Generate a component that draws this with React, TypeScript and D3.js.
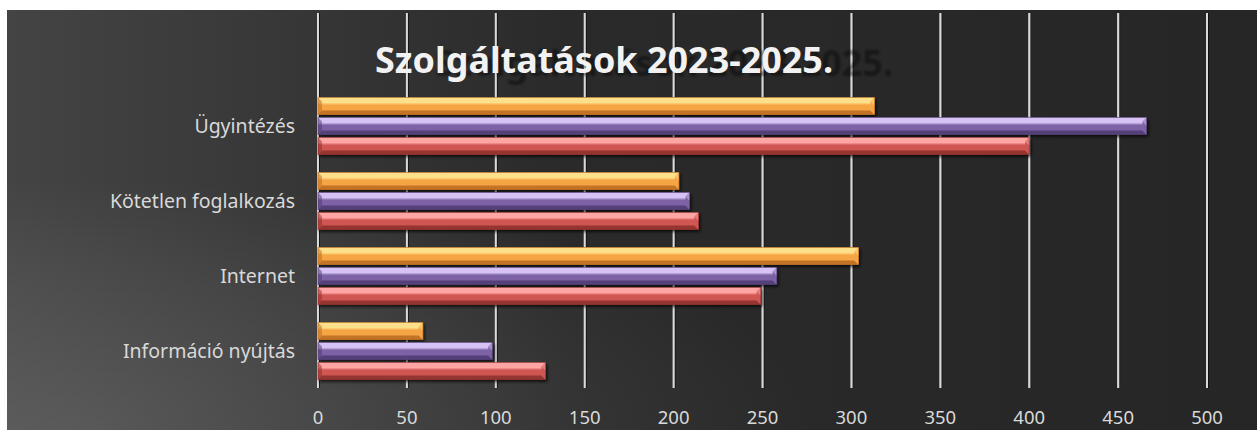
import React from "react";
import * as d3 from "d3";

const categories = ["Információ nyújtás", "Internet", "Kötetlen foglalkozás", "Ügyintézés"];
const seriesNames = ["2025", "2024", "2023"]; // top to bottom within a group
const values2023 = [128, 249, 214, 400];
const values2024 = [98, 258, 209, 466];
const values2025 = [59, 304, 203, 313];
const xTicks = [0, 50, 100, 150, 200, 250, 300, 350, 400, 450, 500];
const title = "Szolgáltatások 2023-2025.";

const W = 1257;
const H = 430;

// colours per series: [light, main, dark]
const palette: Record<string, string[]> = {
  "2025": ["#ffe08a", "#f6a544", "#b86a22"],
  "2024": ["#d7c2f5", "#7d63a6", "#4e3a72"],
  "2023": ["#ffa5a3", "#cf5653", "#8a2e2c"],
};

const valuesBySeries: Record<string, number[]> = {
  "2023": values2023,
  "2024": values2024,
  "2025": values2025,
};

const Bar = ({ x0, x1, y0, h, name }: { x0: number; x1: number; y0: number; h: number; name: string }) => {
  const [light, main, dark] = palette[name];
  const b = 4;
  const y1 = y0 + h;
  const pts = (a: number[][]) => a.map((p) => p.join(",")).join(" ");
  return (
    <g filter="url(#barShadow)">
      <rect x={x0} y={y0} width={x1 - x0} height={h} fill={`url(#g${name})`} />
      <polygon points={pts([[x0, y0], [x1, y0], [x1 - b, y0 + b], [x0 + b, y0 + b]])} fill={light} opacity={0.9} />
      <polygon points={pts([[x0, y1], [x1, y1], [x1 - b, y1 - b], [x0 + b, y1 - b]])} fill={dark} opacity={0.85} />
      <polygon points={pts([[x1, y0], [x1, y1], [x1 - b, y1 - b], [x1 - b, y0 + b]])} fill={main} />
      <polygon points={pts([[x1, y0], [x1, y0 + h / 2], [x1 - b, y0 + b]])} fill={light} opacity={0.5} />
      <polygon points={pts([[x0, y0], [x0, y1], [x0 + b, y1 - b], [x0 + b, y0 + b]])} fill={dark} opacity={0.5} />
      <rect x={x0} y={y0} width={x1 - x0} height={h} fill="none" stroke={dark} strokeWidth={0.8} opacity={0.7} />
    </g>
  );
};

export default function App() {
  const x = d3.scaleLinear().domain([0, 500]).range([318, 1207]);
  const y = d3.scaleBand<string>().domain(categories).range([388, 88]);
  const ySub = d3.scaleBand<string>().domain(seriesNames).range([9.5, 66.5]).paddingInner(0.15);
  const gridTop = 13;
  const gridBottom = 388;

  return (
    <svg
      width={W}
      height={H}
      style={{ position: "absolute", left: 0, top: 0, fontFamily: "'Noto Sans', 'Open Sans', sans-serif" }}
    >
      <defs>
        <linearGradient id="bgLin" x1="0" x2="1" y1="0" y2="0">
          <stop offset="0" stopColor="#444444" />
          <stop offset="0.45" stopColor="#2a2a2a" />
          <stop offset="1" stopColor="#262626" />
        </linearGradient>
        <radialGradient id="bgRad" cx="0.05" cy="1" r="0.6">
          <stop offset="0" stopColor="#ffffff" stopOpacity={0.13} />
          <stop offset="0.6" stopColor="#ffffff" stopOpacity={0.06} />
          <stop offset="1" stopColor="#ffffff" stopOpacity={0} />
        </radialGradient>
        {seriesNames.map((n) => (
          <linearGradient key={n} id={`g${n}`} x1="0" x2="0" y1="0" y2="1">
            <stop offset="0" stopColor={palette[n][0]} />
            <stop offset="0.3" stopColor={palette[n][0]} />
            <stop offset="0.45" stopColor={palette[n][1]} />
            <stop offset="1" stopColor={palette[n][1]} />
          </linearGradient>
        ))}
        <filter id="barShadow" x="-5%" y="-50%" width="110%" height="200%">
          <feDropShadow dx="1.5" dy="2" stdDeviation="1.8" floodColor="#000" floodOpacity="0.7" />
        </filter>
        <filter id="titleBlur" x="-10%" y="-50%" width="120%" height="200%">
          <feGaussianBlur stdDeviation="1.2" />
        </filter>
        <filter id="gridShade">
          <feDropShadow dx="1" dy="0" stdDeviation="0.5" floodColor="#000" floodOpacity="0.6" />
        </filter>
      </defs>

      <rect x={7} y={10} width={W - 7} height={H - 10} fill="url(#bgLin)" />
      <rect x={7} y={10} width={W - 7} height={H - 10} fill="url(#bgRad)" />

      {/* grid lines */}
      <g filter="url(#gridShade)">
        {xTicks.map((t) => (
          <line key={t} x1={x(t)} x2={x(t)} y1={gridTop} y2={gridBottom} stroke="#d9d9d9" strokeWidth={2} />
        ))}
      </g>

      {/* title shadow + title */}
      <text
        x={435}
        y={76}
        fontSize={35}
        fontWeight="bold"
        fill="#000"
        opacity={0.4}
        textLength={458}
        lengthAdjust="spacingAndGlyphs"
        filter="url(#titleBlur)"
      >
        {title}
      </text>
      <text x={375} y={73} fontSize={35} fontWeight="bold" fill="#f2f2f2" textLength={458} lengthAdjust="spacingAndGlyphs">
        {title}
      </text>

      {/* bars */}
      {categories.map((c, i) => (
        <g key={c}>
          {seriesNames.map((s) => (
            <Bar
              key={s}
              name={s}
              x0={x(0)}
              x1={x(valuesBySeries[s][i])}
              y0={(y(c) as number) + (ySub(s) as number)}
              h={ySub.bandwidth()}
            />
          ))}
        </g>
      ))}

      {/* category labels */}
      {categories.map((c) => (
        <text
          key={c}
          x={295}
          y={(y(c) as number) + y.bandwidth() / 2 + 7}
          textAnchor="end"
          fontSize={19.5}
          fill="#d9d9d9"
        >
          {c}
        </text>
      ))}

      {/* x tick labels */}
      {xTicks.map((t) => (
        <text key={t} x={x(t)} y={424} textAnchor="middle" fontSize={18.5} fill="#d9d9d9">
          {t}
        </text>
      ))}
    </svg>
  );
}
